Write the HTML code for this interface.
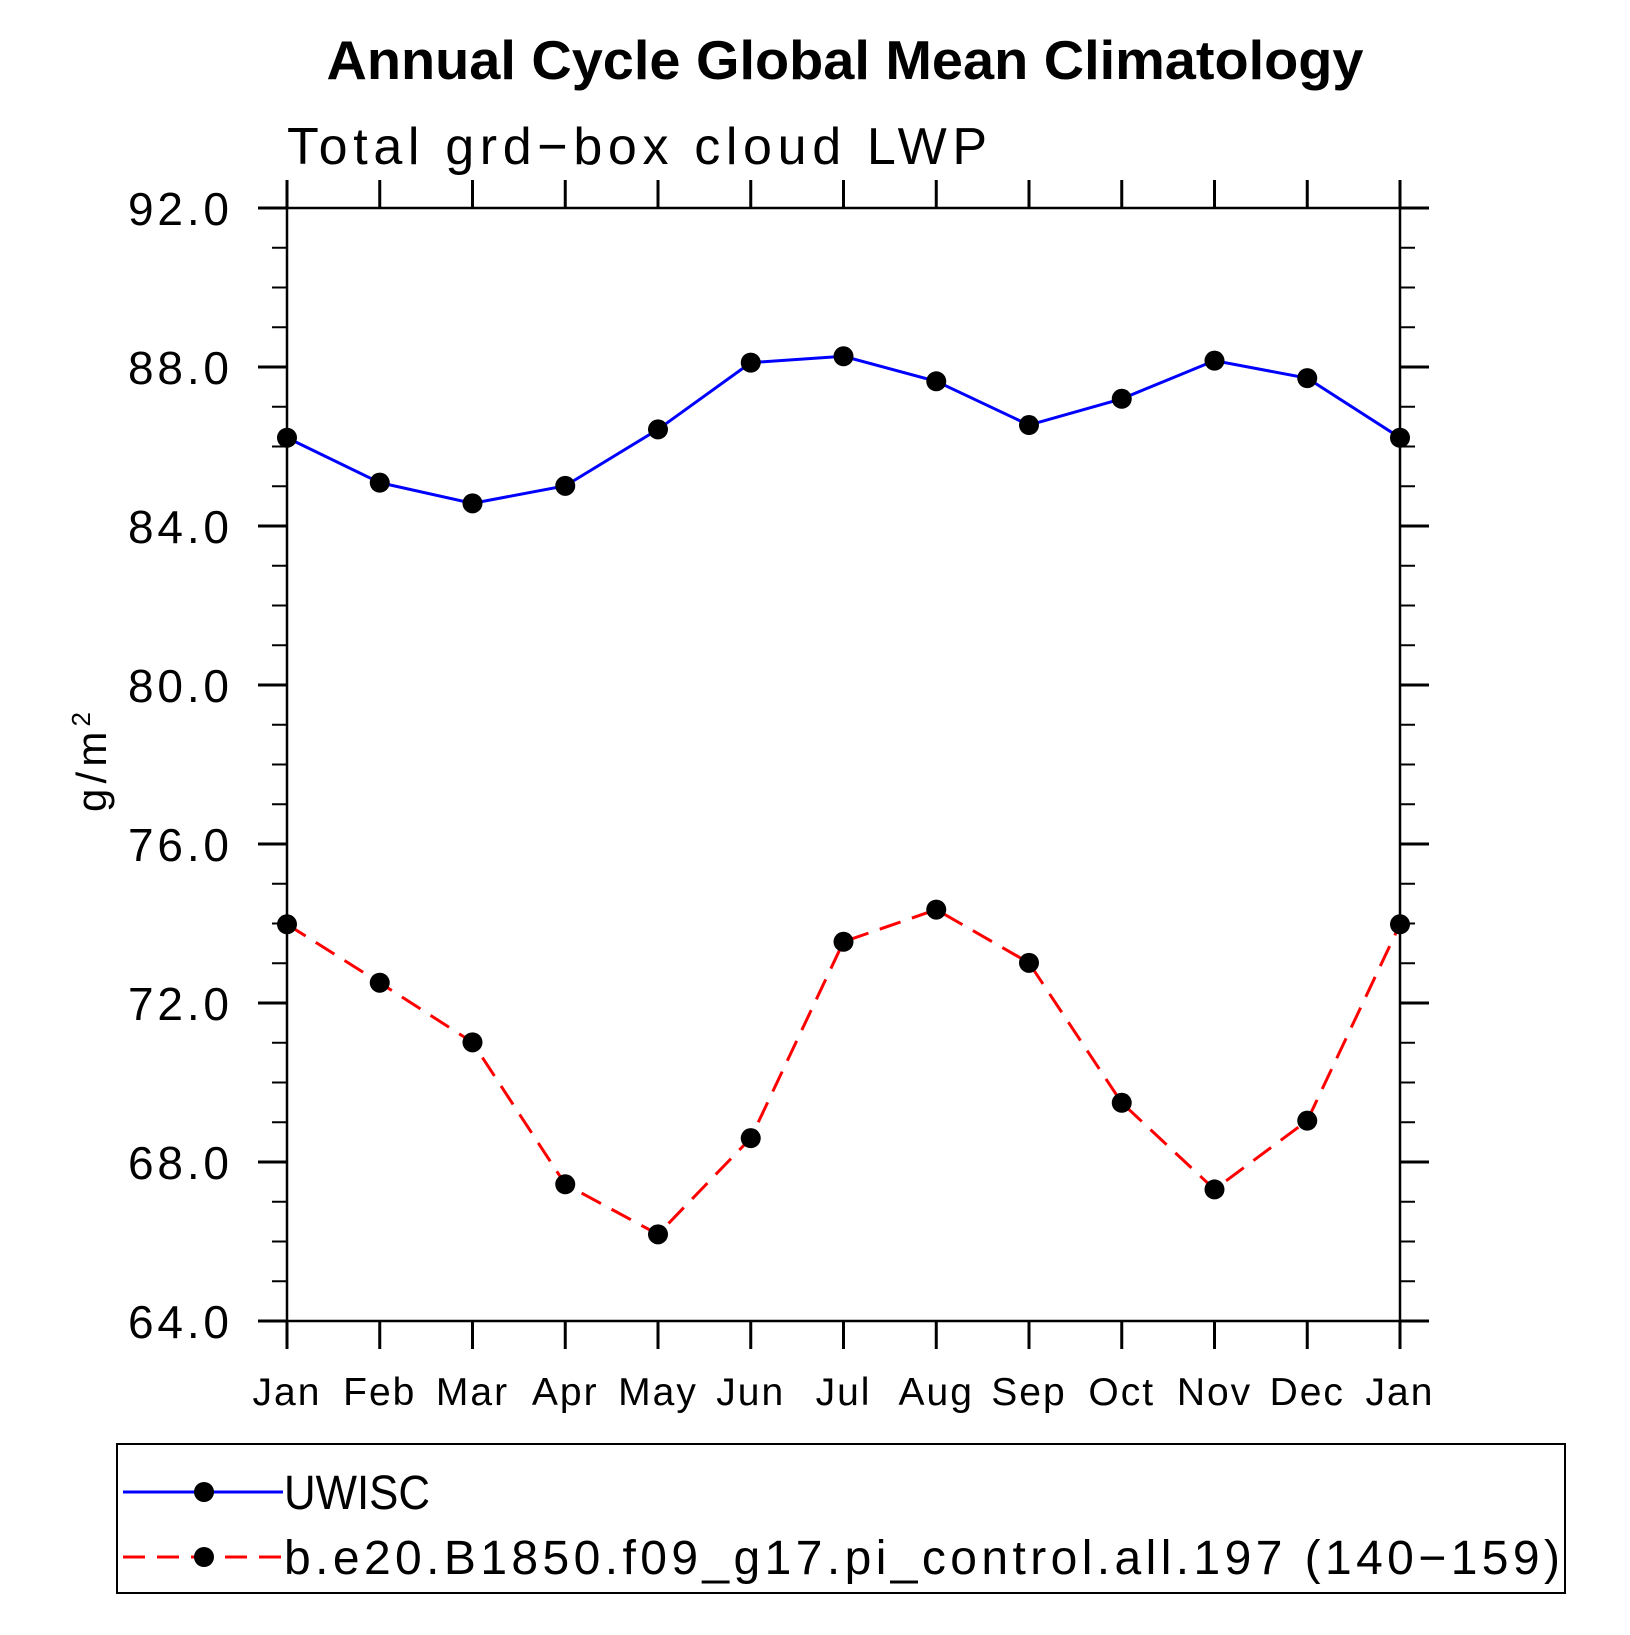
<!DOCTYPE html>
<html><head><meta charset="utf-8"><style>
html,body{margin:0;padding:0;background:#fff;}
svg text{font-family:"Liberation Sans",sans-serif;}
</style></head><body>
<svg id="chart" width="1630" height="1630" viewBox="0 0 1630 1630" xmlns="http://www.w3.org/2000/svg">
<text x="845" y="79" text-anchor="middle" font-size="55" font-weight="bold" textLength="1037" lengthAdjust="spacingAndGlyphs">Annual Cycle Global Mean Climatology</text>
<text x="287" y="164" font-size="52" textLength="700" lengthAdjust="spacing">Total grd−box cloud LWP</text>
<text transform="translate(106,762) rotate(-90)" text-anchor="middle" font-size="42" textLength="100" lengthAdjust="spacing">g/m<tspan dy="-16" font-size="26">2</tspan></text>
<g id="axes"></g>
<g id="series"></g>
<g>
<rect x="117" y="1444" width="1448" height="149" fill="none" stroke="#000" stroke-width="2"/>
<g>
<line x1="123" y1="1492" x2="283" y2="1492" stroke="#0000ff" stroke-width="3"/>
<circle cx="204" cy="1492" r="10" fill="#000"/>
<text x="284" y="1509" font-size="48" textLength="146" lengthAdjust="spacingAndGlyphs">UWISC</text>
</g>
<g>
<line x1="123" y1="1557" x2="283" y2="1557" stroke="#ff0000" stroke-width="3" stroke-dasharray="22,12"/>
<circle cx="204" cy="1557" r="10" fill="#000"/>
<text x="284" y="1574" font-size="48" textLength="1276">b.e20.B1850.f09_g17.pi_control.all.197 (140−159)</text>
</g>
</g>
</svg>
<script>
const months = ["Jan","Feb","Mar","Apr","May","Jun","Jul","Aug","Sep","Oct","Nov","Dec","Jan"];
const yTicks = [64,68,72,76,80,84,88,92];
const yTickLabels = ["64.0","68.0","72.0","76.0","80.0","84.0","88.0","92.0"];
const uwisc = [86.22,85.09,84.57,85.01,86.43,88.11,88.27,87.64,86.54,87.2,88.16,87.72,86.22];
const model = [73.98,72.51,71.01,67.44,66.18,68.6,73.54,74.35,73.01,69.49,67.31,69.04,73.98];

const NS="http://www.w3.org/2000/svg";
const L=287,R=1400,T=208,B=1321,ymin=64,ymax=92;
const xs=i=>L+(R-L)*i/(months.length-1);
const ys=v=>B-(B-T)*(v-ymin)/(ymax-ymin);
function mk(tag,attrs,parent){const e=document.createElementNS(NS,tag);for(const k in attrs)e.setAttribute(k,attrs[k]);parent.appendChild(e);return e;}
const ax=document.getElementById('axes');
let fr=mk('rect',{x:L,y:T,width:R-L,height:B-T,fill:'none',stroke:'#000','stroke-width':2.5},ax);


months.forEach((m,i)=>{
  const x=xs(i);
  let t=mk('line',{x1:x,y1:B,x2:x,y2:B+28,stroke:'#000','stroke-width':3},ax);
  
  
  let t2=mk('line',{x1:x,y1:T,x2:x,y2:T-28,stroke:'#000','stroke-width':3},ax);
  
  
  let lb=mk('text',{x:x,y:1405,'text-anchor':'middle','font-size':39,'letter-spacing':2},ax);
  lb.textContent=m;
  
  
});
for(let v=ymin;v<=ymax+0.001;v+=1){
  const major=(v-ymin)%4===0;const len=major?29:15;const y=ys(v);
  let a=mk('line',{x1:L-len,y1:y,x2:L,y2:y,stroke:'#000','stroke-width':major?3:2},ax);
  
  
  let b=mk('line',{x1:R,y1:y,x2:R+len,y2:y,stroke:'#000','stroke-width':major?3:2},ax);
  
  
}
yTicks.forEach((v,i)=>{
  let lb=mk('text',{x:229,y:ys(v)+17,'text-anchor':'end','font-size':46,textLength:101,lengthAdjust:'spacing'},ax);
  lb.textContent=yTickLabels[i];
  
  
});
const sg=document.getElementById('series');
function draw(vals,color,dash,name){
  const pts=vals.map((v,i)=>xs(i)+','+ys(v)).join(' ');
  let pl=mk('polyline',{points:pts,fill:'none',stroke:color,'stroke-width':3},sg);
  if(dash)pl.setAttribute('stroke-dasharray',dash);
  
  
  vals.forEach((v,i)=>{
    let c=mk('circle',{cx:xs(i),cy:ys(v),r:10,fill:'#000'},sg);
    
    
  });
}
draw(uwisc,'#0000ff',null,'uwisc');
draw(model,'#ff0000','22,12','model');
</script>
</body></html>
